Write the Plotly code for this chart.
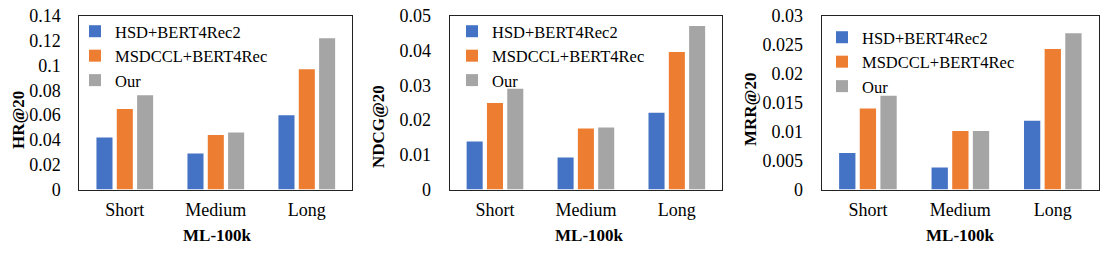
import plotly.graph_objects as go

categories = ["Short", "Medium", "Long"]
series_names = ["HSD+BERT4Rec2", "MSDCCL+BERT4Rec", "Our"]
colors = ["#4472C4", "#ED7D31", "#A5A5A5"]

hr_hsd = [0.042, 0.029, 0.060]
hr_msdccl = [0.065, 0.044, 0.097]
hr_our = [0.076, 0.046, 0.122]

ndcg_hsd = [0.0138, 0.0092, 0.0221]
ndcg_msdccl = [0.0249, 0.0176, 0.0396]
ndcg_our = [0.0290, 0.0179, 0.0471]

mrr_hsd = [0.0063, 0.0038, 0.0119]
mrr_msdccl = [0.0140, 0.0101, 0.0243]
mrr_our = [0.0162, 0.0101, 0.0270]

hr_ticks = [0, 0.02, 0.04, 0.06, 0.08, 0.1, 0.12, 0.14]
hr_ticktext = ["0", "0.02", "0.04", "0.06", "0.08", "0.1", "0.12", "0.14"]
ndcg_ticks = [0, 0.01, 0.02, 0.03, 0.04, 0.05]
ndcg_ticktext = ["0", "0.01", "0.02", "0.03", "0.04", "0.05"]
mrr_ticks = [0, 0.005, 0.01, 0.015, 0.02, 0.025, 0.03]
mrr_ticktext = ["0", "0.005", "0.01", "0.015", "0.02", "0.025", "0.03"]

y_titles = ["HR@20", "NDCG@20", "MRR@20"]
x_title = "ML-100k"

W, H = 1111, 254
FONT = "Times New Roman"

panels = [
    dict(data=[hr_hsd, hr_msdccl, hr_our], ticks=hr_ticks, text=hr_ticktext,
         x0=79.3, x1=352.3, ytitle_xy=(18, 120), xtitle_x=217, leg=(75, 14)),
    dict(data=[ndcg_hsd, ndcg_msdccl, ndcg_our], ticks=ndcg_ticks, text=ndcg_ticktext,
         x0=449.5, x1=722.3, ytitle_xy=(378, 127), xtitle_x=589, leg=(452, 14)),
    dict(data=[mrr_hsd, mrr_msdccl, mrr_our], ticks=mrr_ticks, text=mrr_ticktext,
         x0=821.7, x1=1099, ytitle_xy=(750, 110), xtitle_x=960, leg=(822, 20)),
]

plot_top, plot_bottom = 16, 189.5

fig = go.Figure()
layout = dict(
    template="none",
    width=W, height=H,
    margin=dict(l=0, r=0, t=0, b=0, autoexpand=False),
    paper_bgcolor="white", plot_bgcolor="white",
    font=dict(family=FONT, size=17, color="black"),
    barmode="group", bargap=0.33, bargroupgap=0.21,
    showlegend=True,
)
annotations = []
for i, p in enumerate(panels):
    n = "" if i == 0 else str(i + 1)
    legname = "legend" + n
    for s, (name, col) in enumerate(zip(series_names, colors)):
        fig.add_trace(go.Bar(
            x=categories, y=p["data"][s], name=name,
            marker=dict(color=col, line=dict(width=0)),
            xaxis="x" + n, yaxis="y" + n, legend=legname,
        ))
    layout["xaxis" + n] = dict(
        domain=[p["x0"] / W, p["x1"] / W], anchor="y" + n, automargin=False,
        showline=True, mirror=True, linecolor="#222", linewidth=1,
        ticks="", showgrid=False, zeroline=False,
        tickfont=dict(size=18, family=FONT), ticklabelstandoff=4,
    )
    layout["yaxis" + n] = dict(
        domain=[1 - plot_bottom / H, 1 - plot_top / H], anchor="x" + n,
        automargin=False,
        range=[0, p["ticks"][-1]], tickvals=p["ticks"], ticktext=p["text"],
        showline=True, mirror=True, linecolor="#222", linewidth=1,
        ticks="", showgrid=False, zeroline=False,
        tickfont=dict(size=18, family=FONT), ticklabelstandoff=14,
    )
    layout[legname] = dict(
        x=p["leg"][0] / W, y=1 - p["leg"][1] / H, xanchor="left", yanchor="top",
        bgcolor="rgba(0,0,0,0)", font=dict(size=16.5, family=FONT),
        tracegroupgap=0, itemwidth=30, borderwidth=0,
    )
    annotations.append(dict(
        text="<b>%s</b>" % y_titles[i], textangle=-90, showarrow=False,
        xref="paper", yref="paper",
        x=p["ytitle_xy"][0] / W, y=1 - p["ytitle_xy"][1] / H,
        xanchor="center", yanchor="middle", font=dict(size=17, family=FONT),
    ))
    annotations.append(dict(
        text="<b>%s</b>" % x_title, showarrow=False,
        xref="paper", yref="paper",
        x=p["xtitle_x"] / W, y=1 - 235 / H,
        xanchor="center", yanchor="middle", font=dict(size=17, family=FONT),
    ))
layout["annotations"] = annotations
fig.update_layout(**layout)
fig.write_html("out.html", config={"displayModeBar": False},
               post_script="document.body.style.margin='0';")
